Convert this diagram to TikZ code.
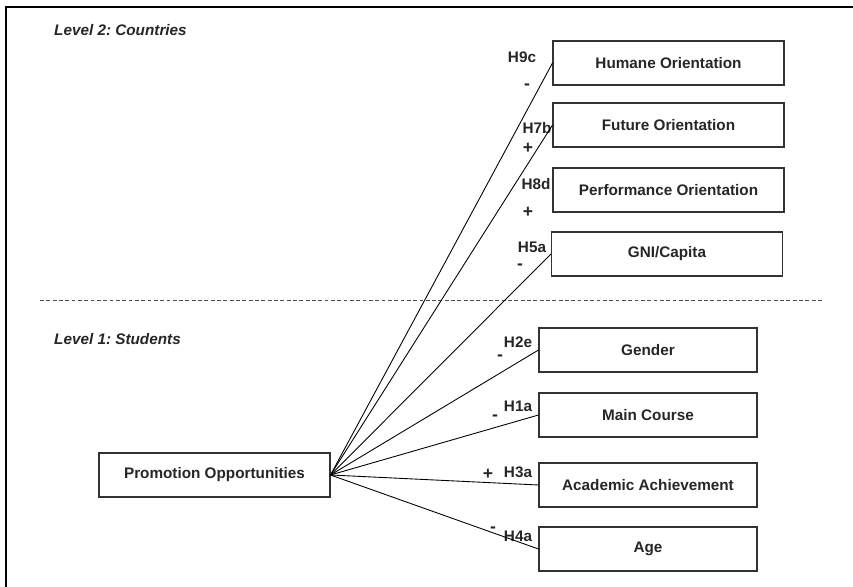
\documentclass[tikz,border=0pt]{standalone}
\usepackage{fontspec}
\setmainfont{Liberation Sans}
\usetikzlibrary{positioning}
\newcommand{\hypfont}{\fontsize{8.7}{10.4}\selectfont\bfseries}
\frenchspacing

\begin{document}
\begin{tikzpicture}[x=0.02cm,y=-0.02cm,every node/.style={font=\hypfont,text=black!85}]
  \tikzstyle{var}=[draw=black!80,line width=0.6pt,minimum height=0.88cm,inner sep=0pt]
  \tikzstyle{wide}=[var,minimum width=4.62cm]
  \tikzstyle{narrow}=[var,minimum width=4.36cm]
  \tikzstyle{link}=[line width=0.5pt]
  \tikzstyle{sign}=[font=\fontsize{10}{12}\selectfont\bfseries]
  \useasboundingbox (0,0) rectangle (853,587);
  % frame
  \draw[line width=1.1pt] (853,7) -- (6,7) -- (6,587);
  % levels
  \node[anchor=west,font=\hypfont\itshape] (lvl2) at (48,30) {Level 2: Countries};
  \node[anchor=west,font=\hypfont\itshape] (lvl1) at (48,339) {Level 1: Students};
  \coordinate (sepL) at (40,300);
  \coordinate (sepR) at (822,300);
  \draw[dash pattern=on 2.2pt off 1.4pt,line width=0.5pt,black!70] (sepL) -- (sepR);
  % country variables
  \node[wide] (humane) at (668.5,63) {Humane Orientation};
  \node[wide] (future) at (668.5,125) {Future Orientation};
  \node[wide] (perf) at (668.5,190) {Performance Orientation};
  \node[wide] (gni) at (667,254) {GNI/Capita};
  % student variables
  \node[narrow] (gender) at (648,350) {Gender};
  \node[narrow] (course) at (648,415) {Main Course};
  \node[narrow] (achieve) at (648,485) {Academic Achievement};
  \node[narrow] (age) at (648,549) {Age};
  % outcome
  \node[wide] (promo) at (214.5,475) {Promotion Opportunities};
  % hypotheses
  \node (h9c) at (522,57) {H9c};
  \node[sign] (s9c) at (527,87) {-};
  \node (h7b) at (537,128) {H7b};
  \node[sign] (s7b) at (528,148) {+};
  \node (h8d) at (536,184) {H8d};
  \node[sign] (s8d) at (528,212) {+};
  \node (h5a) at (532,247) {H5a};
  \node[sign] (s5a) at (520,267) {-};
  \node (h2e) at (518,342) {H2e};
  \node[sign] (s2e) at (500,358) {-};
  \node (h1a) at (518,406) {H1a};
  \node[sign] (s1a) at (495,418) {-};
  \node (h3a) at (518,472) {H3a};
  \node[sign] (s3a) at (488,474) {+};
  \node (h4a) at (518,536) {H4a};
  \node[sign] (s4a) at (493,530) {-};
  % paths
  \draw[link] (promo.east) -- (humane.west);
  \draw[link] (promo.east) -- (future.west);
  \draw[link] (promo.east) -- (gni.west);
  \draw[link] (promo.east) -- (gender.west);
  \draw[link] (promo.east) -- (course.west);
  \draw[link] (promo.east) -- (achieve.west);
  \draw[link] (promo.east) -- (age.west);
\end{tikzpicture}
\end{document}
